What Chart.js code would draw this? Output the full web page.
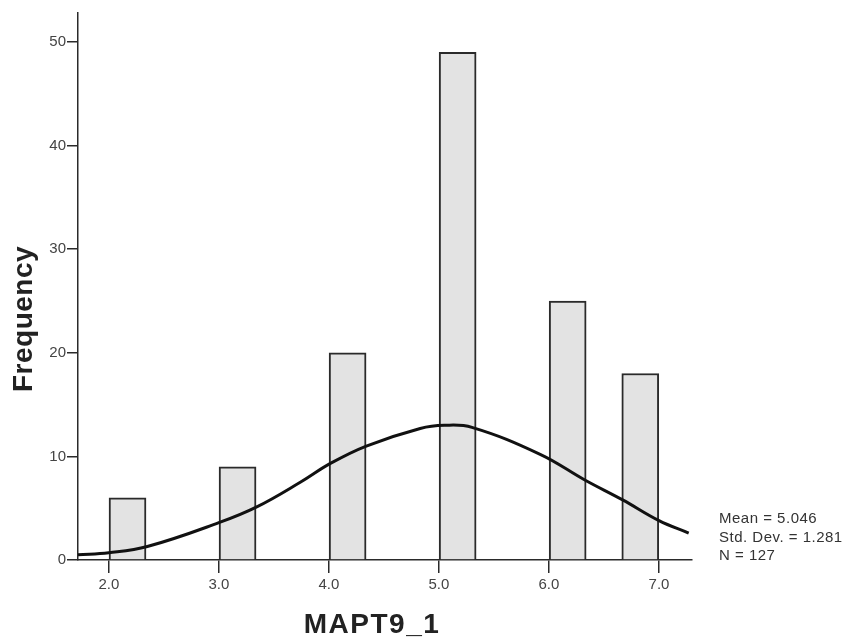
<!DOCTYPE html>
<html>
<head>
<meta charset="utf-8">
<title>MAPT9_1</title>
<script src="https://cdn.jsdelivr.net/npm/chart.js@4/dist/chart.umd.min.js"></script>
<style>
  html, body { margin: 0; padding: 0; background: #fff; }
  #wrap { position: relative; width: 859px; height: 643px; }
</style>
</head>
<body>
<div id="wrap"><canvas id="hist"></canvas></div>
<script>
// histogram bins (axis units) and their counts
var binStart = [2.0, 3.0, 4.0, 5.0, 6.0, 6.66];
var binEnd = [2.34, 3.34, 4.34, 5.34, 6.34, 7.0];
var counts = [6, 9, 20, 49, 25, 18];

// fitted normal curve, points read along the x axis
var curveX = [1.72, 2.0, 2.35, 3.0, 3.34, 3.74, 4.01, 4.34, 4.83, 5.05, 5.3, 5.92, 6.33, 6.67, 7.0, 7.27];
var curveY = [0.5, 0.7, 1.3, 3.6, 5.1, 7.5, 9.3, 11.0, 12.7, 13.0, 12.8, 10.2, 7.7, 5.8, 3.8, 2.6];

var xTicks = [2, 3, 4, 5, 6, 7];
var yTicks = [0, 10, 20, 30, 40, 50];
var statLines = ["Mean = 5.046", "Std. Dev. = 1.281", "N = 127"];

var app = (function() {
  var INK = "#2a2a2a";

  // bar points sit at the middle of each bin
  function barPoints() {
    var pts = [];
    counts.forEach(function(c, i) {
      pts.push({ x: (binStart[i] + binEnd[i]) / 2, y: c });
    });
    return pts;
  }

  function curvePoints() {
    return curveX.map(function(x, i) {
      return { x: x, y: curveY[i] };
    });
  }

  function fixedTicks(list) {
    return function(scale) {
      scale.ticks = list.map(function(v) { return { value: v }; });
    };
  }

  // axis titles and the summary box
  var textPlugin = {
    id: "histText",
    afterDraw: function(chart) {
      var ctx = chart.ctx;
      ctx.save();
      ctx.fillStyle = "#222";
      ctx.font = "bold 28px Arial, 'Liberation Sans', sans-serif";
      ctx.letterSpacing = "1.5px";
      ctx.textAlign = "center";
      ctx.textBaseline = "alphabetic";
      ctx.fillText("MAPT9_1", 372, 633);

      ctx.translate(32, 319);
      ctx.rotate(-Math.PI / 2);
      ctx.letterSpacing = "0.5px";
      ctx.fillText("Frequency", 0, 0);
      ctx.restore();

      ctx.save();
      ctx.fillStyle = "#333";
      ctx.font = "15px Arial, 'Liberation Sans', sans-serif";
      ctx.letterSpacing = "0.5px";
      ctx.textAlign = "left";
      ctx.textBaseline = "middle";
      statLines.forEach(function(line, i) {
        ctx.fillText(line, 719, 519 + i * 18.5);
      });
      ctx.restore();
    }
  };

  function runHistogram() {
    var config = {
      data: {
        datasets: [
          {
            type: "line",
            data: curvePoints(),
            borderColor: "#111",
            borderWidth: 3,
            pointRadius: 0,
            tension: 0.4,
            fill: false,
            order: 0
          },
          {
            type: "bar",
            data: barPoints(),
            backgroundColor: "#e3e3e3",
            borderColor: INK,
            borderWidth: 2,
            barThickness: 37,
            order: 1
          }
        ]
      },
      options: {
        responsive: false,
        animation: false,
        layout: { padding: { left: 0, top: 13, right: 167, bottom: 0 } },
        plugins: {
          legend: { display: false },
          tooltip: { enabled: false }
        },
        scales: {
          x: {
            type: "linear",
            offset: false,
            min: 1.72,
            max: 7.3,
            afterBuildTicks: fixedTicks(xTicks),
            afterFit: function(scale) { scale.height = 83; },
            border: { display: true, color: INK, width: 1.5 },
            grid: {
              offset: false,
              drawOnChartArea: false,
              drawTicks: true,
              tickLength: 13,
              color: INK,
              lineWidth: 1.5
            },
            ticks: {
              color: "#444",
              padding: 3,
              font: { family: "Arial, 'Liberation Sans', sans-serif", size: 15 },
              callback: function(v) { return v.toFixed(1); }
            }
          },
          y: {
            type: "linear",
            min: 0,
            max: 52.8,
            afterBuildTicks: fixedTicks(yTicks),
            afterFit: function(scale) { scale.width = 78; },
            border: { display: true, color: INK, width: 1.5 },
            grid: {
              drawOnChartArea: false,
              drawTicks: true,
              tickLength: 11,
              color: INK,
              lineWidth: 1.5
            },
            ticks: {
              color: "#444",
              padding: 1,
              font: { family: "Arial, 'Liberation Sans', sans-serif", size: 15 },
              callback: function(v) { return String(v); }
            }
          }
        }
      },
      plugins: [textPlugin]
    };
    var canvas = document.getElementById("hist");
    canvas.width = 859;
    canvas.height = 643;
    new Chart(canvas, config);
  }

  runHistogram();
})();
</script>
</body>
</html>
